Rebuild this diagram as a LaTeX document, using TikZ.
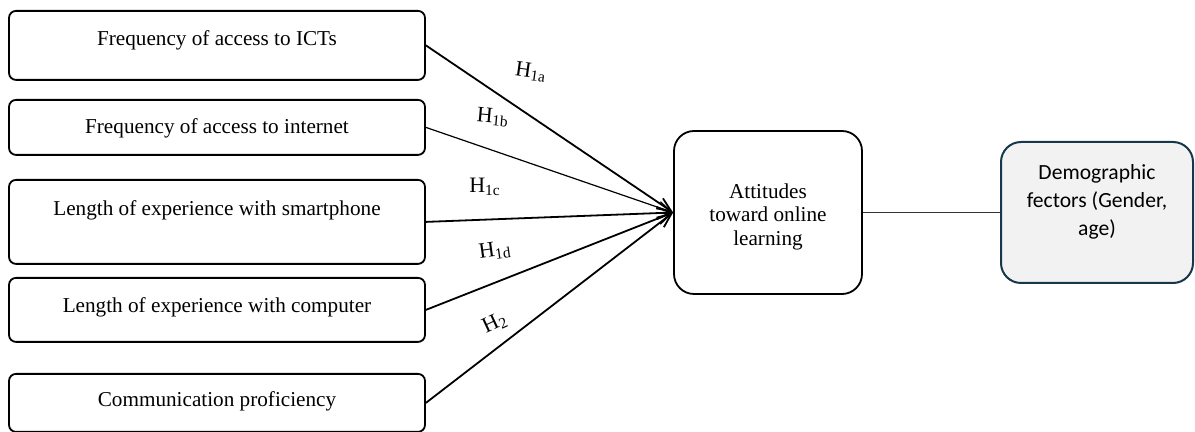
\documentclass[tikz,border=0pt]{standalone}
\usepackage{fontspec}
\setmainfont{Liberation Serif}
\newfontfamily\calibrifont{Carlito}
\usetikzlibrary{arrows.meta}
\definecolor{demoblue}{RGB}{23, 55, 75}
\definecolor{demofill}{RGB}{242, 242, 242}

\begin{document}
\begin{tikzpicture}[
  x=0.5pt, y=-0.5pt,
  every node/.style={font=\fontsize{10.6}{12}\selectfont},
  factor/.style={draw, line width=0.9pt, rounded corners=3.5pt, minimum width=208pt, inner sep=0pt, anchor=north},
  outcome/.style={draw, line width=0.9pt, rounded corners=10pt, minimum width=94pt, minimum height=81.5pt, align=center, font=\fontsize{10.6}{11.8}\selectfont},
  demo/.style={draw=demoblue, fill=demofill, line width=1pt, rounded corners=10pt, minimum width=96pt, minimum height=70.5pt, align=center, font=\calibrifont\fontsize{10.8}{14}\selectfont},
  arrow/.style={-{Straight Barb[length=7pt, width=6pt]}, line width=0.9pt},
  hyp/.style={font=\fontsize{11}{12}\selectfont, inner sep=1pt},
  link/.style={line width=0.6pt, draw=black!80}
]
  \useasboundingbox (0,0) rectangle (1195,432);

  \node[factor, text height=17.5pt, text depth=17pt] (ict) at (217,10) {Frequency of access to ICTs};
  \node[factor, text height=17pt, text depth=10.5pt] (net) at (217,99) {Frequency of access to internet};
  \node[factor, text height=18pt, text depth=24pt] (phone) at (217,179) {Length of experience with smartphone};
  \node[factor, text height=17.5pt, text depth=14.5pt] (comp) at (217,277) {Length of experience with computer};
  \node[factor, text height=16.5pt, text depth=12.5pt] (comm) at (217,373) {Communication proficiency};

  \node[outcome, text height=35pt] (att) at (768,212.5) {Attitudes\\toward online\\learning};
  \node[demo, text depth=12.5pt] (dem) at (1097,212.5) {Demographic\\fectors (Gender,\\age)};

  \draw[arrow] (ict.east) -- (att.west);
  \draw[arrow, line width=0.6pt] (net.east) -- (att.west);
  \draw[arrow] (phone.east) -- (att.west);
  \draw[arrow] (comp.east) -- (att.west);
  \draw[arrow] (comm.east) -- (att.west);
  \draw[link] (att) -- (dem);

  \node[hyp, rotate=-8] (h1a) at (531,72) {H\textsubscript{1a}};
  \node[hyp, rotate=-5] (h1b) at (493,117) {H\textsubscript{1b}};
  \node[hyp] (h1c) at (485,187) {H\textsubscript{1c}};
  \node[hyp, rotate=8] (h1d) at (495,251) {H\textsubscript{1d}};
  \node[hyp, rotate=25] (h2) at (495,323) {H\textsubscript{2}};

\end{tikzpicture}
\end{document}
